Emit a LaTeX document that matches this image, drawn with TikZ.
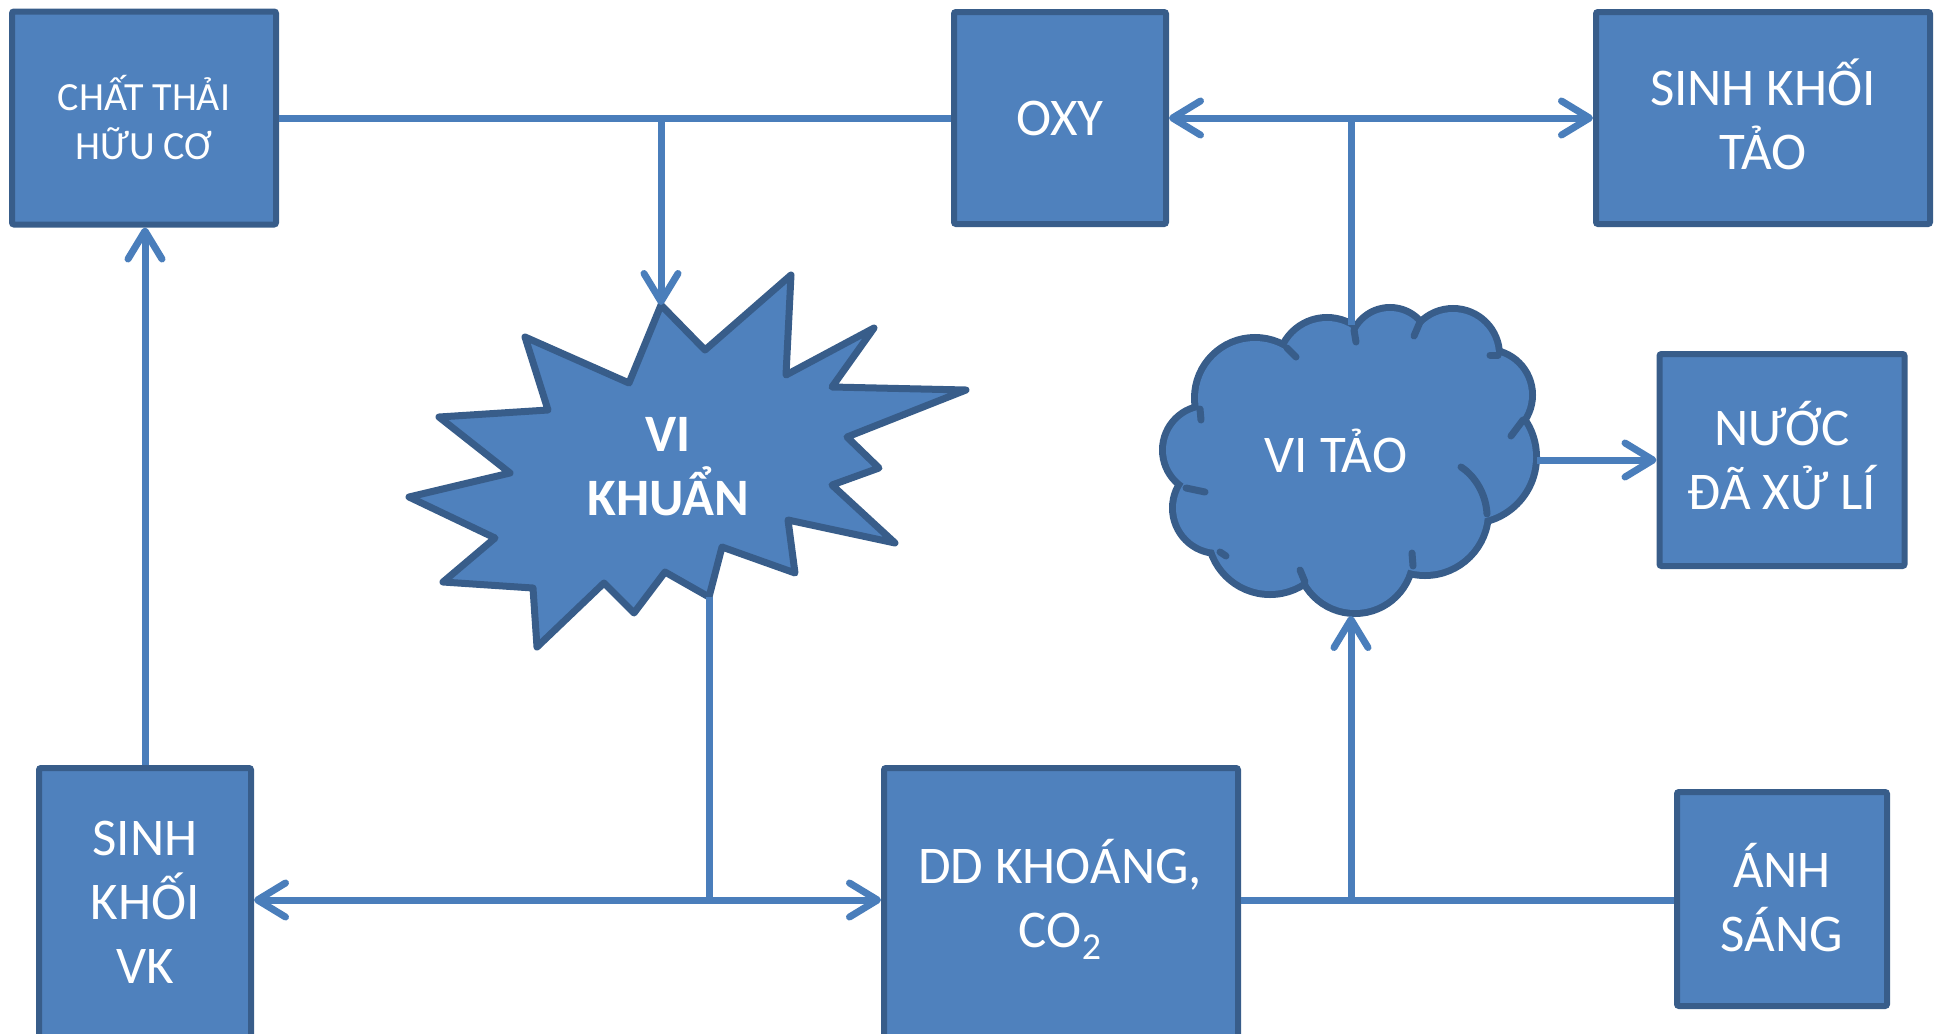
\documentclass[tikz,border=0pt]{standalone}
\usepackage{fontspec}
\setmainfont{Carlito}
\usetikzlibrary{arrows.meta}
\definecolor{boxfill}{HTML}{4F81BD}
\definecolor{boxline}{HTML}{385D8A}
\definecolor{connline}{HTML}{4A7EBB}
\tikzset{
  mybarb/.tip={Straight Barb[length=14pt,width=17pt,round]},
  box/.style={draw=boxline, fill=boxfill, line width=3pt, rounded corners=1pt,
    text=white, align=center, font=\fontsize{26.5}{32}\selectfont, inner sep=0pt},
  lbl/.style={text=white, align=center, font=\fontsize{26.5}{32}\selectfont, inner sep=0pt},
  conn/.style={draw=connline, line width=3.5pt},
  starsty/.style={draw=boxline, fill=boxfill, line width=3.5pt, line join=round},
  puffline/.style={draw=boxline, line width=7pt},
  pufffill/.style={fill=boxfill},
  tick/.style={draw=boxline, line width=3.5pt, line cap=round},
}
\begin{document}
\begin{tikzpicture}[x=0.5pt,y=-0.5pt]
\useasboundingbox (0,0) rectangle (1940,1034);

% boxes
\node[box, minimum width=132pt, minimum height=106.5pt,
  font=\fontsize{20}{24.5}\selectfont] (cthai) at (144,118) {CHẤT THẢI\\HỮU CƠ};
\node[box, minimum width=106pt, minimum height=106pt] (oxy) at (1060,118) {OXY};
\node[box, minimum width=167pt, minimum height=106pt] (skt) at (1763,118) {};
\node[lbl] (sktt) at (1763,114) {SINH KHỐI\\TẢO};
\node[box, minimum width=122.5pt, minimum height=106pt] (nuoc) at (1782,460) {};
\node[lbl] (nuoct) at (1782,456) {NƯỚC\\ĐÃ XỬ LÍ};
\node[box, minimum width=106pt, minimum height=141pt] (skvk) at (145,909) {};
\node[lbl] (skvkt) at (145,902) {SINH\\KHỐI\\VK};
\node[box, minimum width=177pt, minimum height=141pt] (dd) at (1061,909) {};
\node[lbl] (ddt) at (1060,899) {DD KHOÁNG,\\CO\raisebox{-6pt}{\fontsize{19}{19}\selectfont 2}};
\node[box, minimum width=105pt, minimum height=107pt] (anh) at (1782,899) {};
\node[lbl] (anht) at (1782,898) {ÁNH\\SÁNG};

% starburst (vi khuan)
\path[starsty] (661,305) -- (705,350) -- (791,275) -- (786,375) -- (874,328)
  -- (832,387) -- (966,390) -- (847,437) -- (879,468) -- (832,485) -- (895,543)
  -- (788,520) -- (795,573) -- (722,547) -- (709,597) -- (665,572) -- (634,613)
  -- (604,583) -- (537,647) -- (533,588) -- (443,582) -- (495,538) -- (409,497)
  -- (510,473) -- (439,417) -- (548,410) -- (525,337) -- (629,383) -- cycle;
\coordinate (startop) at (661,305);
\coordinate (starbot) at (709,597);
\node[lbl, font=\fontsize{26.3}{32}\selectfont\bfseries] (vk) at (668,467) {VI\\KHUẨN};

% cloud (vi tao)
\foreach \cx/\cy/\r in {1255/398/57, 1327/367/46, 1390/348/37, 1453/355/43,
    1487/395/42, 1470/457/63, 1425/512/60, 1355/555/55, 1270/532/59,
    1218/508/42, 1207/450/41}{
  \path[puffline] (\cx,\cy) circle[radius=\r*0.5pt];
}
\foreach \cx/\cy/\r in {1255/398/57, 1327/367/46, 1390/348/37, 1453/355/43,
    1487/395/42, 1470/457/63, 1425/512/60, 1355/555/55, 1270/532/59,
    1218/508/42, 1207/450/41, 1350/455/95, 1440/400/40, 1250/470/45}{
  \path[pufffill] (\cx,\cy) circle[radius=\r*0.5pt];
}
\path[tick] (1287,348) -- (1296,357);
\path[tick] (1354,330) -- (1356,342);
\path[tick] (1420,322) -- (1414,336);
\path[tick] (1490,355) -- (1498,355);
\path[tick] (1523,420) -- (1511,436);
\path[tick] (1461,467) .. controls (1475,476) and (1486,494) .. (1487,514);
\path[tick] (1412,553) -- (1413,566);
\path[tick] (1300,570) -- (1305,582);
\path[tick] (1220,552) -- (1226,556);
\path[tick] (1186,488) -- (1205,492);
\path[tick] (1200,409) -- (1201,420);
\coordinate (cloudtop) at (1351,325);
\coordinate (cloudbot) at (1351,616);
\coordinate (cloudright) at (1537,460);
\node[lbl] (vitao) at (1336,451) {VI TẢO};

% connectors
\coordinate (j1) at (661,118);
\coordinate (j2) at (1351,118);
\coordinate (j3) at (709,900);
\coordinate (j4) at (1351,900);
\draw[conn] (cthai.east) -- (oxy.west);
\draw[conn,-{mybarb}] (j1) -- (startop);
\draw[conn,{mybarb}-{mybarb}] (oxy.east) -- (skt.west);
\draw[conn] (cloudtop) -- (j2);
\draw[conn,-{mybarb}] (cloudright) -- (nuoc.west |- cloudright);
\draw[conn] (starbot) -- (j3);
\draw[conn,{mybarb}-{mybarb}] (skvk.east |- j3) -- (dd.west |- j3);
\draw[conn,-{mybarb}] (skvk.north) -- (skvk.north |- cthai.south);
\draw[conn] (dd.east |- j4) -- (anh.west |- j4);
\draw[conn,-{mybarb}] (j4) -- (cloudbot);
\end{tikzpicture}
\end{document}
